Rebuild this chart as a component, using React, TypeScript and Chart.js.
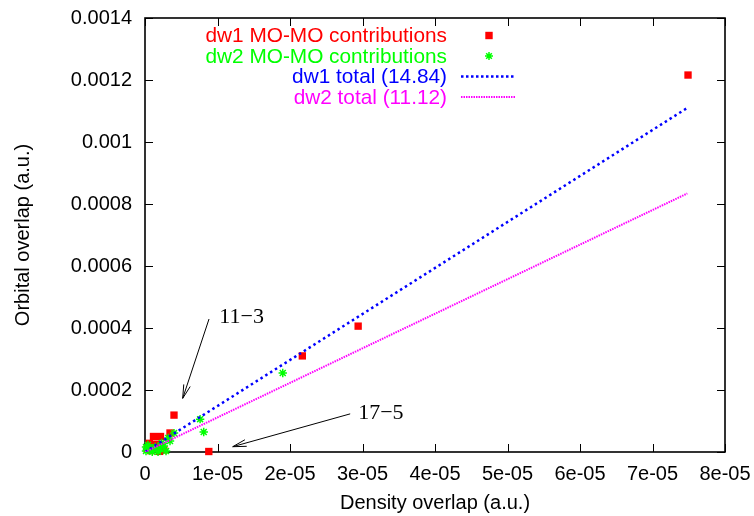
import React, { useEffect, useRef } from 'react';
import { Chart, registerables } from 'chart.js';

Chart.register(...registerables);

// ---- data ----
const xTickLabels = ['0', '1e-05', '2e-05', '3e-05', '4e-05', '5e-05', '6e-05', '7e-05', '8e-05'];
const yTickLabels = ['0', '0.0002', '0.0004', '0.0006', '0.0008', '0.001', '0.0012', '0.0014'];

const seriesLabels = [
  'dw1 MO-MO contributions',
  'dw2 MO-MO contributions',
  'dw1 total (14.84)',
  'dw2 total (11.12)',
];

const dw1X = [7.49e-5, 2.94e-5, 2.17e-5, 0.40e-5, 0.88e-5, 0.117e-5, 0.214e-5, 0.345e-5, 0.06e-5, 0.16e-5, 0.2e-5, 0.03e-5, 0.11e-5, 0.26e-5, 0.08e-5];
const dw1Y = [0.001216, 0.000406, 0.000310, 0.000119, 0.0000016, 0.00005, 0.00005, 0.0000613, 0.000028, 0.000025, 0.000002, 0.0000097, 0.000013, 0.0000065, 0.0000045];

const dw2X = [1.90e-5, 0.76e-5, 0.81e-5, 0.40e-5, 0.32e-5, 0.26e-5, 0.21e-5, 0.14e-5, 0.07e-5, 0.014e-5, 0.014e-5, 0.10e-5, 0.18e-5, 0.29e-5, 0.345e-5, 0.04e-5, 0.23e-5, 0.08e-5];
const dw2Y = [0.000255, 0.000106, 0.0000645, 0.000061, 0.0000452, 0.0000194, 0.0000097, 0.0000161, 0.0000065, 0.0000032, 0.0000161, 0.0000005, 0.0000005, 0.000003, 0.0000355, 0.0000226, 0.000029, 0.000012];

const dw1FitX = [0, 7.48e-5];
const dw1FitY = [0, 0.00111];
const dw2FitX = [0, 7.48e-5];
const dw2FitY = [0, 0.000834];

const annotationTexts = ['11\u22123', '17\u22125'];
const annotationTextX = [1.025e-5, 2.94e-5];
const annotationTextY = [0.000415, 0.000105];
const arrowFromX = [0.883e-5, 2.83e-5];
const arrowFromY = [0.000429, 0.000123];
const arrowToX = [0.52e-5, 1.21e-5];
const arrowToY = [0.000173, 0.0000171];

const RED = '#ff0000';
const GREEN = '#00ff00';
const BLUE = '#0000ff';
const MAGENTA = '#ff00ff';
const SANS = '"Liberation Sans", Arial, Helvetica, sans-serif';
const SERIF = '"Liberation Serif", "Times New Roman", serif';

function toPoints(xs: number[], ys: number[]) {
  return xs.map((x, i) => ({ x, y: ys[i] }));
}

function drawStar(ctx: CanvasRenderingContext2D, x: number, y: number, r: number) {
  const d = r * Math.SQRT1_2;
  ctx.beginPath();
  ctx.moveTo(x - r, y); ctx.lineTo(x + r, y);
  ctx.moveTo(x, y - r); ctx.lineTo(x, y + r);
  ctx.moveTo(x - d, y - d); ctx.lineTo(x + d, y + d);
  ctx.moveTo(x - d, y + d); ctx.lineTo(x + d, y - d);
  ctx.stroke();
}

function zeroPadding(s: any) {
  s.paddingTop = 0;
  s.paddingBottom = 0;
  s.paddingLeft = 0;
  s.paddingRight = 0;
}

const framePlugin = {
  id: 'gnuFrame',
  beforeDatasetsDraw(chart: any) {
    const { ctx, chartArea: a, scales } = chart;
    const tl = 8;
    ctx.save();
    ctx.strokeStyle = '#000';
    ctx.lineWidth = 1;
    ctx.beginPath();
    scales.x.ticks.forEach((t: any) => {
      const px = Math.round(scales.x.getPixelForValue(t.value)) + 0.5;
      ctx.moveTo(px, a.bottom); ctx.lineTo(px, a.bottom - tl);
      ctx.moveTo(px, a.top); ctx.lineTo(px, a.top + tl);
    });
    scales.y.ticks.forEach((t: any) => {
      const py = Math.round(scales.y.getPixelForValue(t.value)) + 0.5;
      ctx.moveTo(a.left, py); ctx.lineTo(a.left + tl, py);
      ctx.moveTo(a.right, py); ctx.lineTo(a.right - tl, py);
    });
    ctx.stroke();
    ctx.lineWidth = 1.6;
    ctx.strokeRect(a.left, a.top, a.right - a.left, a.bottom - a.top);
    ctx.restore();
  },
};

const overlayPlugin = {
  id: 'gnuOverlay',
  afterDraw(chart: any) {
    const { ctx, scales } = chart;
    const sx = scales.x, sy = scales.y;
    ctx.save();
    // annotations
    ctx.strokeStyle = '#000';
    ctx.fillStyle = '#000';
    ctx.lineWidth = 1;
    ctx.font = `22px ${SERIF}`;
    ctx.textAlign = 'left';
    ctx.textBaseline = 'alphabetic';
    annotationTexts.forEach((txt, i) => {
      ctx.fillText(txt, sx.getPixelForValue(annotationTextX[i]), sy.getPixelForValue(annotationTextY[i]));
      const x1 = sx.getPixelForValue(arrowFromX[i]);
      const y1 = sy.getPixelForValue(arrowFromY[i]);
      const x2 = sx.getPixelForValue(arrowToX[i]);
      const y2 = sy.getPixelForValue(arrowToY[i]);
      const ang = Math.atan2(y2 - y1, x2 - x1);
      const hl = 14, ha = (14 * Math.PI) / 180;
      ctx.beginPath();
      ctx.moveTo(x1, y1); ctx.lineTo(x2, y2);
      ctx.moveTo(x2 - hl * Math.cos(ang - ha), y2 - hl * Math.sin(ang - ha));
      ctx.lineTo(x2, y2);
      ctx.lineTo(x2 - hl * Math.cos(ang + ha), y2 - hl * Math.sin(ang + ha));
      ctx.stroke();
    });

    // key
    const textRight = 447;
    const sampleX = 489;
    const lineL = 461, lineR = 515;
    const rows = [35.5, 56, 76.5, 97];
    const colors = [RED, GREEN, BLUE, MAGENTA];
    ctx.font = `20.8px ${SANS}`;
    ctx.textAlign = 'right';
    ctx.textBaseline = 'middle';
    seriesLabels.forEach((lab, i) => {
      ctx.fillStyle = colors[i];
      ctx.fillText(lab, textRight, rows[i] + 1);
    });
    ctx.fillStyle = RED;
    ctx.fillRect(sampleX - 3.7, rows[0] - 3.7, 7.4, 7.4);
    ctx.strokeStyle = GREEN;
    ctx.lineWidth = 1.5;
    drawStar(ctx, sampleX, rows[1], 4);
    ctx.strokeStyle = BLUE;
    ctx.lineWidth = 2.5;
    ctx.setLineDash([2.5, 2.5]);
    ctx.beginPath(); ctx.moveTo(lineL, rows[2]); ctx.lineTo(lineR, rows[2]); ctx.stroke();
    ctx.strokeStyle = MAGENTA;
    ctx.lineWidth = 2;
    ctx.setLineDash([1.5, 1]);
    ctx.beginPath(); ctx.moveTo(lineL, rows[3]); ctx.lineTo(lineR, rows[3]); ctx.stroke();
    ctx.setLineDash([]);
    ctx.restore();
  },
};

export default function App() {
  const canvasRef = useRef<HTMLCanvasElement | null>(null);

  useEffect(() => {
    if (!canvasRef.current) return;
    Chart.defaults.font.family = SANS;
    const chart = new Chart(canvasRef.current, {
      type: 'scatter',
      data: {
        datasets: [
          {
            label: seriesLabels[0],
            data: toPoints(dw1X, dw1Y),
            pointStyle: 'rect',
            pointRadius: 5.2,
            pointHoverRadius: 5.2,
            backgroundColor: RED,
            borderColor: RED,
            borderWidth: 0,
            clip: false,
            order: 4,
          },
          {
            label: seriesLabels[1],
            data: toPoints(dw2X, dw2Y),
            pointStyle: 'star',
            pointRadius: 4.2,
            pointHoverRadius: 4.2,
            backgroundColor: GREEN,
            borderColor: GREEN,
            borderWidth: 1.5,
            clip: false,
            order: 3,
          },
          {
            label: seriesLabels[2],
            data: toPoints(dw1FitX, dw1FitY),
            showLine: true,
            pointRadius: 0,
            borderColor: BLUE,
            borderWidth: 2.5,
            borderDash: [2.5, 3.2],
            fill: false,
            order: 2,
          },
          {
            label: seriesLabels[3],
            data: toPoints(dw2FitX, dw2FitY),
            showLine: true,
            pointRadius: 0,
            borderColor: MAGENTA,
            borderWidth: 2,
            borderDash: [1.5, 1],
            fill: false,
            order: 1,
          },
        ],
      } as any,
      options: {
        animation: false,
        responsive: false,
        devicePixelRatio: 1,
        layout: { padding: { top: 18, right: 29, left: 0, bottom: 0 } },
        plugins: {
          legend: { display: false },
          tooltip: { enabled: false },
        },
        scales: {
          x: {
            type: 'linear',
            min: 0,
            max: 8e-5,
            grid: { display: false, drawTicks: false },
            border: { display: false },
            ticks: {
              stepSize: 1e-5,
              padding: 10,
              color: '#000',
              font: { size: 20, family: SANS },
              maxRotation: 0,
              autoSkip: false,
              callback: (_v: any, i: number) => xTickLabels[i],
            },
            title: {
              display: true,
              text: 'Density overlap (a.u.)',
              color: '#000',
              font: { size: 20, family: SANS },
              padding: { top: 0, bottom: 1 },
            },
            afterFit: (s: any) => { s.height = 64; zeroPadding(s); },
          },
          y: {
            type: 'linear',
            min: 0,
            max: 0.0014,
            grid: { display: false, drawTicks: false },
            border: { display: false },
            ticks: {
              stepSize: 0.0002,
              padding: 13,
              color: '#000',
              font: { size: 20, family: SANS },
              autoSkip: false,
              callback: (_v: any, i: number) => yTickLabels[i],
            },
            title: {
              display: true,
              text: 'Orbital overlap (a.u.)',
              color: '#000',
              font: { size: 20, family: SANS },
              padding: { top: 11, bottom: 0 },
            },
            afterFit: (s: any) => { s.width = 145; zeroPadding(s); },
          },
        },
      } as any,
      plugins: [framePlugin, overlayPlugin],
    });
    return () => chart.destroy();
  }, []);

  return (
    <div style={{ position: 'fixed', left: 0, top: 0, width: 754, height: 516, background: '#fff' }}>
      <canvas ref={canvasRef} width={754} height={516} style={{ display: 'block' }} />
    </div>
  );
}
